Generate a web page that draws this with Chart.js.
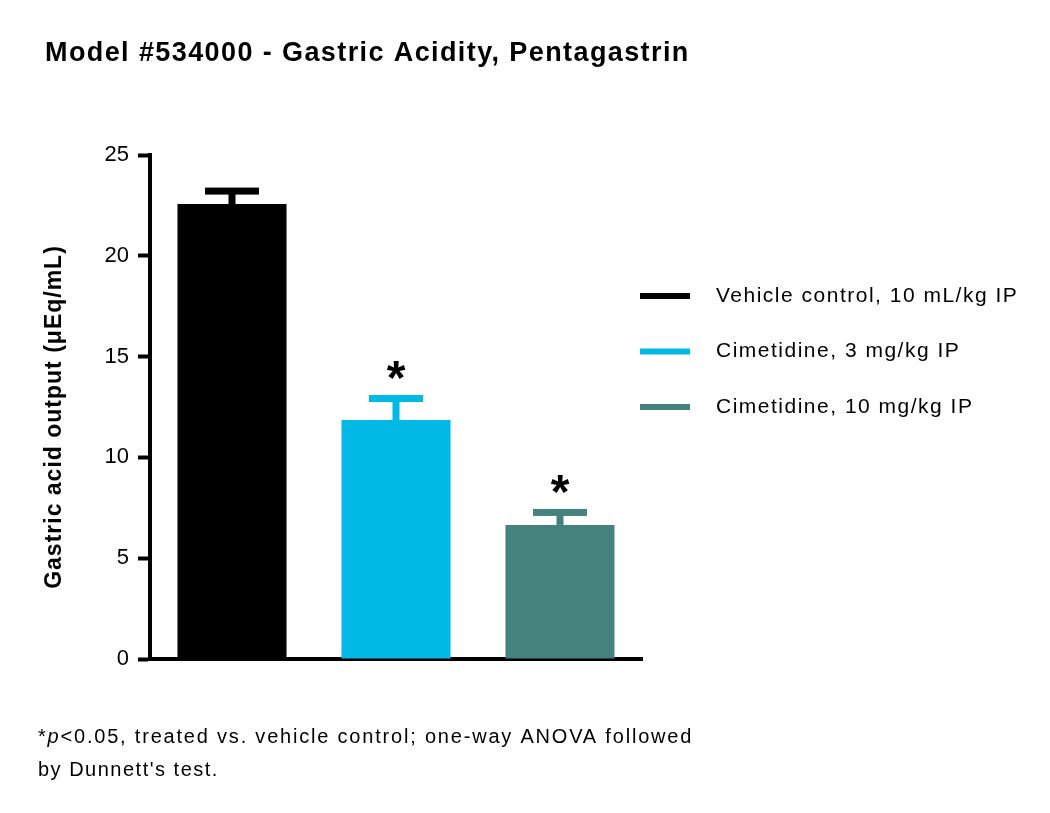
<!DOCTYPE html>
<html>
<head>
<meta charset="utf-8">
<script src="https://cdn.jsdelivr.net/npm/chart.js@4.4.1/dist/chart.umd.min.js"></script>
<style>
  html, body { margin: 0; padding: 0; background: #fff; }
  #wrap { position: relative; width: 1050px; height: 813px; }
</style>
</head>
<body>
<div id="wrap"><canvas id="chartAcidity" width="1050" height="813"></canvas></div>
<script>
// data
const groups = ['Vehicle control, 10 mL/kg IP', 'Cimetidine, 3 mg/kg IP', 'Cimetidine, 10 mg/kg IP'];
const means = [22.57, 11.85, 6.65];
const sems = [0.64, 1.07, 0.62];
const significant = [false, true, true];
const barColors = ['#000000', '#00B9E5', '#45817D'];
const yTicks = [0, 5, 10, 15, 20, 25];

const titleText = 'Model #534000 - Gastric Acidity, Pentagastrin';
const yTitle = 'Gastric acid output (\u03BCEq/mL)';
const footLines = ['*p<0.05, treated vs. vehicle control; one-way ANOVA followed', "by Dunnett's test."];

const FONT = "'Liberation Sans', Arial, sans-serif";

// error bars, stars, legend, titles and footnote
const extrasPlugin = {
  id: 'extras',
  afterDatasetsDraw(chart) {
    const ctx = chart.ctx;
    const y = chart.scales.y;
    const meta = chart.getDatasetMeta(0);
    ctx.save();
    meta.data.forEach((bar, i) => {
      const top = y.getPixelForValue(means[i] + sems[i]);
      const base = y.getPixelForValue(means[i]);
      ctx.fillStyle = barColors[i];
      ctx.fillRect(bar.x - 3.5, top, 7, base - top);
      ctx.fillRect(bar.x - 27, top - 3.5, 54, 7);
      if (significant[i]) {
        ctx.fillStyle = '#000';
        ctx.font = 'bold 48px ' + FONT;
        ctx.textAlign = 'center';
        ctx.textBaseline = 'middle';
        ctx.fillText('*', bar.x, top - 18);
      }
    });
    ctx.restore();
  },
  afterDraw(chart) {
    const ctx = chart.ctx;
    ctx.save();
    ctx.fillStyle = '#000';
    ctx.textAlign = 'left';

    // chart title
    ctx.textBaseline = 'alphabetic';
    ctx.font = 'bold 27px ' + FONT;
    ctx.letterSpacing = '1.4px';
    ctx.fillText(titleText, 45, 61);

    // y axis title, rotated
    ctx.save();
    ctx.translate(61, 417);
    ctx.rotate(-Math.PI / 2);
    ctx.textAlign = 'center';
    ctx.font = 'bold 23px ' + FONT;
    ctx.letterSpacing = '1px';
    ctx.fillText(yTitle, 0, 0);
    ctx.restore();

    // legend
    ctx.textBaseline = 'middle';
    ctx.font = '21px ' + FONT;
    ctx.letterSpacing = '1.5px';
    groups.forEach((g, i) => {
      const ly = 296 + i * 55.5;
      ctx.fillStyle = barColors[i];
      ctx.fillRect(640, ly - 3, 50, 6);
      ctx.fillStyle = '#000';
      ctx.fillText(g, 716, ly);
    });

    // footnote, with italic p
    ctx.textBaseline = 'alphabetic';
    ctx.letterSpacing = '1.8px';
    ctx.font = '20px ' + FONT;
    let x = 38;
    ctx.fillText('*', x, 743);
    x += ctx.measureText('*').width;
    ctx.font = 'italic 20px ' + FONT;
    ctx.fillText('p', x, 743);
    x += ctx.measureText('p').width;
    ctx.font = '20px ' + FONT;
    ctx.fillText(footLines[0].slice(2), x, 743);
    ctx.letterSpacing = '1.5px';
    ctx.fillText(footLines[1], 38, 776);
    ctx.restore();
  }
};

const ctx = document.getElementById('chartAcidity').getContext('2d');
const chartAcidityObj = new Chart(ctx, {
  type: 'bar',
  data: {
    labels: groups,
    datasets: [{ data: means, backgroundColor: barColors, borderWidth: 0, categoryPercentage: 1, barPercentage: 0.665 }]
  },
  options: {
    responsive: false,
    animation: false,
    devicePixelRatio: 1,
    layout: { padding: { left: 0, top: 155, right: 408, bottom: 154 } },
    plugins: { legend: { display: false }, tooltip: { enabled: false } },
    scales: {
      x: {
        grid: { display: false, drawTicks: false },
        border: { display: true, color: '#000', width: 4 },
        ticks: { display: false },
        afterFit: s => { s.height = 0; }
      },
      y: {
        min: 0, max: 25,
        afterBuildTicks: s => { s.ticks = yTicks.map(v => ({ value: v })); },
        afterFit: s => { s.width = 150; },
        grid: { display: true, drawOnChartArea: false, drawTicks: true, tickLength: 12, tickWidth: 4, tickColor: '#000' },
        border: { display: true, color: '#000', width: 4 },
        ticks: { color: '#000', padding: 9, font: { family: FONT, size: 22 } }
      }
    }
  },
  plugins: [extrasPlugin]
});
</script>
</body>
</html>
